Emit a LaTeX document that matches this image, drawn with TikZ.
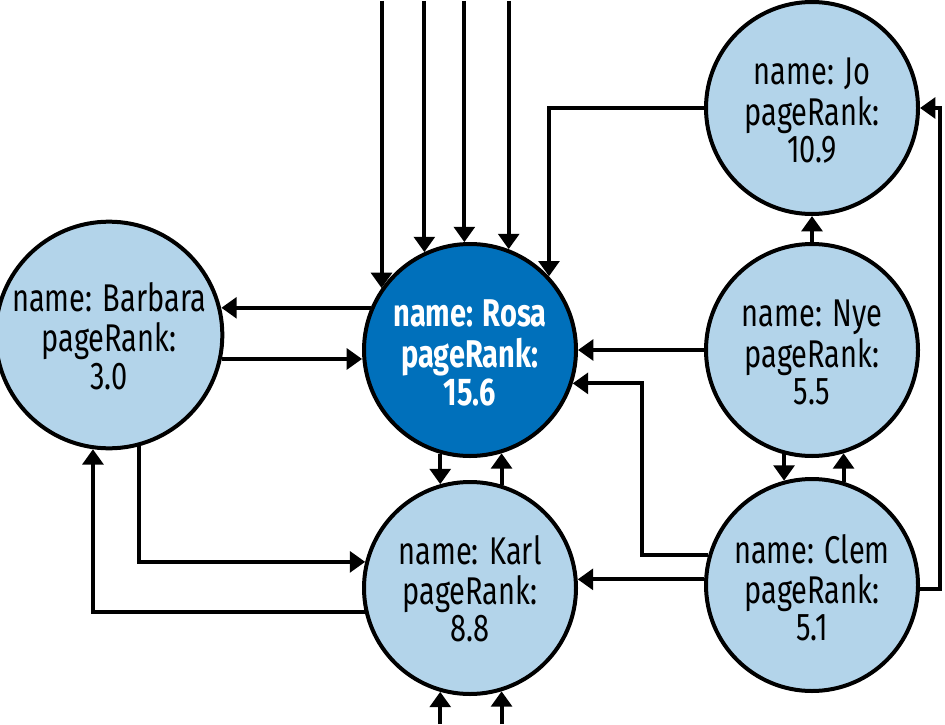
\documentclass[tikz,border=0pt]{standalone}
\usepackage{fontspec}
\setmainfont[FakeStretch=0.75]{Fira Sans}
\usetikzlibrary{arrows.meta}
\definecolor{lightnode}{RGB}{179,212,234}
\definecolor{darknode}{RGB}{0,112,187}
\newcommand{\pnlines}[4][-6pt]{\raisebox{#1}[\height][\depth]{\begin{tabular}{@{}c@{}}#2\\#3\\#4\end{tabular}}}
\tikzset{
  pnode/.style={circle, draw=black, line width=3pt, fill=lightnode, minimum size=159pt,
    inner sep=0pt, align=center, font=\fontsize{29}{28}\selectfont},
  rosanode/.style={pnode, fill=darknode, text=white, font=\fontsize{29}{28}\selectfont\bfseries},
  arr/.style={line width=3pt, -{Triangle[length=11.5pt,width=15.5pt]}},
}
\begin{document}
\begin{tikzpicture}[x=0.75pt,y=-0.75pt]
\useasboundingbox (0,0) rectangle (945,724);
\node[rosanode] (rosa) at (470,350) {\pnlines{name: Rosa}{pageRank:}{15.6}};
\node[pnode] (karl) at (470,588) {\pnlines[-4.5pt]{name: Karl}{pageRank:}{8.8}};
\node[pnode] (barbara) at (109,335) {\pnlines[-5pt]{name: Barbara}{pageRank:}{3.0}};
\node[pnode] (jo) at (812,108) {\pnlines{name: Jo}{pageRank:}{10.9}};
\node[pnode] (nye) at (812,350) {\pnlines{name: Nye}{pageRank:}{5.5}};
\node[pnode] (clem) at (812,585) {\pnlines{name: Clem}{pageRank:}{5.1}};
\coordinate (top) at (0,1);
\coordinate (bot) at (0,724);
\coordinate (rightx) at (940,0);
\coordinate (clemx) at (642,0);
% incoming from top into Rosa
\draw[arr] (rosa.145.2 |- top) -- (rosa.145.2);
\draw[arr] (rosa.115.1 |- top) -- (rosa.115.1);
\draw[arr] (rosa.93.8 |- top) -- (rosa.93.8);
\draw[arr] (rosa.69.0 |- top) -- (rosa.69.0);
% incoming from bottom into Karl
\draw[arr] (karl.-106.4 |- bot) -- (karl.-106.4);
\draw[arr] (karl.-73.6 |- bot) -- (karl.-73.6);
% Rosa <-> Barbara
\draw[arr] (rosa.157.8) -- (barbara.13.6 |- rosa.157.8);
\draw[arr] (barbara.-12.0) -- (rosa.182.7 |- barbara.-12.0);
% Rosa <-> Karl
\draw[arr] (rosa.-106.4) -- (karl.106.4 -| rosa.-106.4);
\draw[arr] (karl.73.6) -- (rosa.-73.6 -| karl.73.6);
% Barbara <-> Karl
\draw[arr] (barbara.-75.8) |- (karl.166.4);
\draw[arr] (karl.193.6) -| (barbara.-98.7);
% Jo -> Rosa
\draw[arr] (jo.west) -| (rosa.43.4);
% Nye
\draw[arr] (nye.west) -- (rosa.east |- nye.west);
\draw[arr] (nye.north) -- (jo.south);
\draw[arr] (nye.-105.9) -- (clem.105.9 -| nye.-105.9);
\draw[arr] (clem.73.6) -- (nye.-73.6 -| clem.73.6);
% Clem
\draw[arr] (clem.164.7) -| (clemx |- rosa.-18.7) -- (rosa.-18.7);
\draw[arr] (clem.177.3) -- (karl.4.3 |- clem.177.3);
\draw[arr] (clem.-2.7) -| (rightx |- jo.east) -- (jo.east);
\end{tikzpicture}
\end{document}
